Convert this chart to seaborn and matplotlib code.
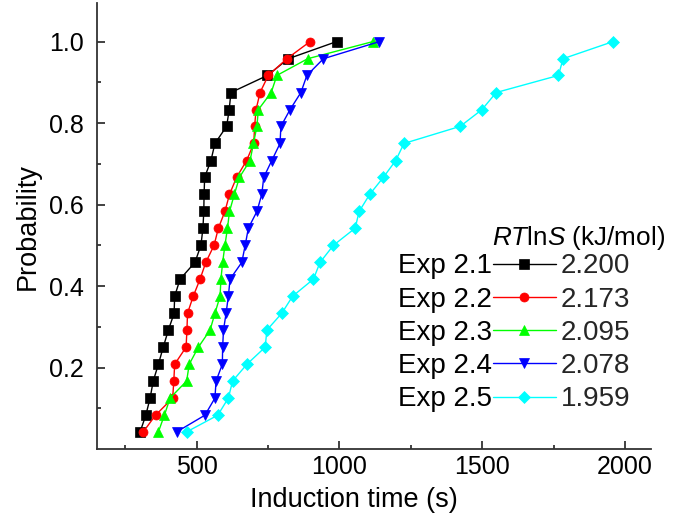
import matplotlib
matplotlib.use("Agg")
import matplotlib.pyplot as plt
import seaborn as sns
from matplotlib.lines import Line2D
from matplotlib.ticker import FixedLocator

# Cumulative probability of nucleation vs. induction time (24 runs per experiment)
prob = [0.042, 0.083, 0.125, 0.167, 0.208, 0.250, 0.292, 0.333, 0.375, 0.417, 0.458, 0.500,
        0.542, 0.583, 0.625, 0.667, 0.708, 0.750, 0.792, 0.833, 0.875, 0.917, 0.958, 1.000]

exp_2_1 = [302, 322, 337, 348, 366, 383, 401, 421, 423, 442, 494, 515,
           522, 525, 526, 528, 550, 564, 605, 614, 620, 748, 821, 990]
exp_2_2 = [313, 356, 416, 420, 423, 463, 466, 468, 488, 512, 532, 561,
           576, 599, 615, 640, 675, 700, 703, 708, 722, 751, 816, 897]
exp_2_3 = [366, 387, 407, 465, 474, 506, 547, 564, 582, 585, 591, 599,
           608, 615, 632, 650, 687, 699, 711, 716, 761, 781, 889, 1117]
exp_2_4 = [430, 529, 564, 568, 590, 591, 594, 603, 611, 617, 658, 670,
           681, 711, 728, 735, 763, 792, 795, 827, 865, 886, 944, 1140]
exp_2_5 = [465, 574, 611, 626, 676, 740, 746, 798, 836, 909, 932, 979,
           1055, 1069, 1106, 1154, 1197, 1226, 1423, 1499, 1549, 1767, 1783, 1958]

exp_names = ["Exp 2.1", "Exp 2.2", "Exp 2.3", "Exp 2.4", "Exp 2.5"]
rtlns = ["2.200", "2.173", "2.095", "2.078", "1.959"]
series = [exp_2_1, exp_2_2, exp_2_3, exp_2_4, exp_2_5]

colors = ["#000000", "#FF0000", "#00FF00", "#0000FF", "#00FFFF"]
markers = ["s", "o", "^", "v", "D"]
msizes = [6.5, 6.5, 7.5, 7.5, 6.0]

sns.set_theme(style="ticks")
plt.rcParams["font.family"] = ["Liberation Sans", "DejaVu Sans"]
plt.rcParams["mathtext.fontset"] = "custom"
plt.rcParams["mathtext.rm"] = "Liberation Sans"
plt.rcParams["mathtext.it"] = "Liberation Sans:italic"

W, H = 675, 523
fig = plt.figure(figsize=(W / 100, H / 100), dpi=100)
ax = fig.add_axes([96.7 / W, 74 / H, (651 - 96.7) / W, (449 - 3.3) / H])

for vals, c, m, ms in zip(series, colors, markers, msizes):
    sns.lineplot(x=vals, y=prob, color=c, marker=m, markersize=ms,
                 markeredgecolor=c, markeredgewidth=0.5, linewidth=1.0,
                 sort=False, estimator=None, legend=False, ax=ax)

ax.set_xlim(150, 2091)
ax.set_ylim(0, 1.094)
ax.xaxis.set_major_locator(FixedLocator([500, 1000, 1500, 2000]))
ax.xaxis.set_minor_locator(FixedLocator([250, 750, 1250, 1750]))
ax.yaxis.set_major_locator(FixedLocator([0.2, 0.4, 0.6, 0.8, 1.0]))
ax.yaxis.set_minor_locator(FixedLocator([0.1, 0.3, 0.5, 0.7, 0.9]))
ax.set_xticklabels(["500", "1000", "1500", "2000"])
ax.set_yticklabels(["0.2", "0.4", "0.6", "0.8", "1.0"])

sns.despine(ax=ax)
for s in ("left", "bottom"):
    ax.spines[s].set_linewidth(1.3)
    ax.spines[s].set_color("#333333")
ax.tick_params(which="major", direction="in", length=6, width=1.3, color="#333333",
               labelsize=18, labelcolor="black")
ax.tick_params(which="minor", direction="in", length=3, width=1.3, color="#333333")
ax.tick_params(axis="y", which="major", pad=9)
ax.tick_params(axis="x", which="major", pad=4)

ax.set_xlabel("Induction time (s)", fontsize=19.5, color="black")
ax.xaxis.set_label_coords((354 - 96.7) / (651 - 96.7), (449 - 487) / (449 - 3.3))
ax.set_ylabel("Probability", fontsize=19.5, color="black", labelpad=6)

# Legend: line sample + RTlnS value, experiment name to the left of each row
fs = 20
fs_px = fs * 100 / 72
handles = [Line2D([], [], color=c, marker=m, markersize=ms, markeredgecolor=c,
                  markeredgewidth=0.5, linewidth=1.0)
           for c, m, ms in zip(colors, markers, msizes)]

row0_y = 271.7      # centre of the first row, px from the top
row_pitch = 33.3    # px between rows
hlen, hpad = 2.25, 0.2


def make_legend(spacing, top_px):
    return ax.legend(handles, rtlns, loc="upper left",
                     bbox_to_anchor=(493 / W, 1 - top_px / H),
                     bbox_transform=fig.transFigure, frameon=False, fontsize=fs,
                     handlelength=hlen, handletextpad=hpad, labelspacing=spacing,
                     borderpad=0, borderaxespad=0)


def row_centres(leg):
    fig.canvas.draw()
    r = fig.canvas.get_renderer()
    out = []
    for t in leg.get_texts():
        bb = t.get_window_extent(r)
        out.append((bb.x0, (bb.y0 + bb.y1) / 2))
    return out


spacing, top = 0.2, 256.0
leg = make_legend(spacing, top)
cen = row_centres(leg)
pitch = (cen[0][1] - cen[-1][1]) / 4
spacing += (row_pitch - pitch) / fs_px
leg.remove()
leg = make_legend(spacing, top)
cen = row_centres(leg)
top += (H - cen[0][1]) - row0_y
leg.remove()
leg = make_legend(spacing, top)
cen = row_centres(leg)

for (x0, yc), name in zip(cen, exp_names):
    fig.text(492 / W, yc / H, name, ha="right", va="center", fontsize=fs, color="black")

fig.text(492 / W, 1 - 238.3 / H, r"$\mathit{RT}$ln$\mathit{S}$ (kJ/mol)",
         ha="left", va="center", fontsize=18.8, color="black")

fig.savefig("out.png", dpi=100)
